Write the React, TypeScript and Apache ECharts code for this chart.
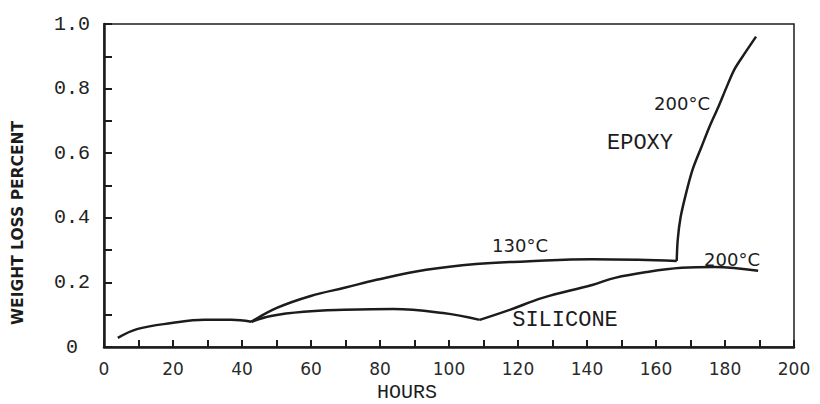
import React, { useEffect, useRef } from "react";
import * as echarts from "echarts";

// Common curve (both materials at 130°C, 0-43 h)
const commonHours = [4, 9.8, 19.6, 29.1, 36.9, 42.7];
const commonLoss = [0.028, 0.056, 0.074, 0.084, 0.084, 0.078];

// Epoxy at 130°C
const epoxy130Hours = [42.7, 50.1, 59.9, 70, 79, 93.4, 107.8, 122.2, 141.5, 155, 166];
const epoxy130Loss = [0.078, 0.121, 0.158, 0.184, 0.208, 0.239, 0.257, 0.265, 0.272, 0.27, 0.266];

// Epoxy at 200°C
const epoxy200Hours = [166, 166.3, 167.1, 168.6, 170.6, 173.2, 175.5, 178.1, 180.4, 182.7, 185.9, 189];
const epoxy200Loss = [0.266, 0.332, 0.4, 0.471, 0.549, 0.62, 0.682, 0.744, 0.803, 0.859, 0.912, 0.961];

// Silicone at 130°C
const silicone130Hours = [42.7, 48.4, 57.9, 69.5, 83.9, 98.3, 108.9];
const silicone130Loss = [0.078, 0.096, 0.109, 0.115, 0.118, 0.105, 0.084];

// Silicone at 200°C
const silicone200Hours = [108.9, 117.6, 127.1, 141.5, 148.1, 157.9, 167.4, 176.9, 189.6];
const silicone200Loss = [0.084, 0.115, 0.152, 0.192, 0.214, 0.233, 0.245, 0.248, 0.236];

const xTicks = [0, 20, 40, 60, 80, 100, 120, 140, 160, 180, 200];
const yTicks = [0, 0.2, 0.4, 0.6, 0.8, 1.0];

const zip = (xs: number[], ys: number[]) => xs.map((x, i) => [x, ys[i]]);

const INK = "#1c1c1c";

export default function App() {
  const ref = useRef<HTMLDivElement>(null);

  useEffect(() => {
    document.body.style.margin = "0";
    const chart = echarts.init(ref.current!, undefined, { renderer: "svg" });

    const lineSeries = (name: string, data: number[][], extra: any = {}) => ({
      name,
      type: "line",
      data,
      smooth: 0.4,
      showSymbol: false,
      symbol: "none",
      lineStyle: { color: INK, width: 2.5 },
      z: 3,
      ...extra,
    });

    const annot = (text: string, x: number, y: number, font: string, size: number) => ({
      type: "text",
      x,
      y,
      style: {
        text,
        fill: INK,
        font: `${size}px ${font}`,
        textAlign: "center",
        textVerticalAlign: "middle",
      },
      z: 10,
    });

    chart.setOption({
      animation: false,
      backgroundColor: "#ffffff",
      grid: {
        left: 104,
        right: 26,
        top: 24,
        bottom: 57,
        show: true,
        borderColor: INK,
        borderWidth: 1.5,
        backgroundColor: "transparent",
      },
      xAxis: {
        type: "value",
        min: xTicks[0],
        max: xTicks[xTicks.length - 1],
        interval: 20,
        axisLine: { show: true, lineStyle: { color: INK, width: 2.5 } },
        axisTick: { show: true, inside: true, length: 7, lineStyle: { color: INK, width: 2 } },
        minorTick: { show: true, splitNumber: 2, length: 7, lineStyle: { color: INK, width: 2 } },
        splitLine: { show: false },
        axisLabel: {
          color: "#2a2a2a",
          fontFamily: "DejaVu Sans",
          fontSize: 17,
          margin: 13,
          formatter: (v: number) => String(v),
        },
      },
      yAxis: {
        type: "value",
        min: yTicks[0],
        max: yTicks[yTicks.length - 1],
        interval: 0.2,
        axisLine: { show: true, lineStyle: { color: INK, width: 2.5 } },
        axisTick: { show: true, inside: true, length: 8, lineStyle: { color: INK, width: 2 } },
        minorTick: { show: true, splitNumber: 2, length: 8, lineStyle: { color: INK, width: 2 } },
        splitLine: { show: false },
        axisLabel: {
          color: "#222222",
          fontFamily: "Liberation Mono",
          fontSize: 20,
          align: "center",
          margin: 32,
          formatter: (v: number) => (v === 0 ? "0" : v.toFixed(1)),
        },
      },
      series: [
        lineSeries("common", zip(commonHours, commonLoss)),
        lineSeries("epoxy130", zip(epoxy130Hours, epoxy130Loss)),
        lineSeries("epoxy200", zip(epoxy200Hours, epoxy200Loss), { smooth: 0.3 }),
        lineSeries("silicone130", zip(silicone130Hours, silicone130Loss)),
        lineSeries("silicone200", zip(silicone200Hours, silicone200Loss)),
      ],
      graphic: [
        {
          type: "text",
          x: 18,
          y: 223,
          rotation: Math.PI / 2,
          style: {
            text: "WEIGHT LOSS PERCENT",
            fill: INK,
            font: "bold 15.5px 'DejaVu Sans'",
            textAlign: "center",
            textVerticalAlign: "middle",
          },
        },
        annot("HOURS", 407, 392, "'Liberation Mono'", 20),
        annot("130°C", 520, 245, "'DejaVu Sans'", 18),
        annot("200°C", 682, 103, "'DejaVu Sans'", 18),
        annot("EPOXY", 640, 143, "'Liberation Mono'", 22),
        annot("SILICONE", 565, 320, "'Liberation Mono'", 22),
        annot("200°C", 732, 259, "'DejaVu Sans'", 18),
      ],
    });

    return () => chart.dispose();
  }, []);

  return <div ref={ref} style={{ width: 820, height: 404 }} />;
}
